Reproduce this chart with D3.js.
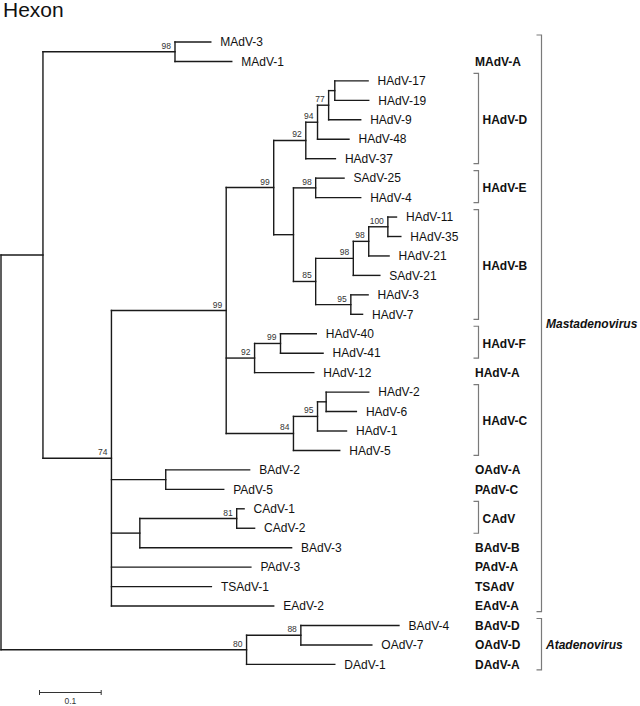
<!DOCTYPE html>
<html><head><meta charset="utf-8">
<script src="https://cdn.jsdelivr.net/npm/d3@7"></script>
<style>body{margin:0;background:#fff}svg{display:block}text{font-family:Arial,"Liberation Sans",sans-serif}</style>
</head><body><svg id="c" width="640" height="706"></svg>
<script>
const title = "Hexon";
// [node, parent, branch length]
const branches = [
["root","",0],
["Mast","root",0.068],
["nMAdV","Mast",0.214],
["MAdV-3","nMAdV",0.058],
["MAdV-1","nMAdV",0.092],
["n74","Mast",0.111],
["nHAdV","n74",0.186],
["nDEB","nHAdV",0.077],
["nD","nDEB",0.052],
["n94","nD",0.019],
["n77","n94",0.018],
["n1719","n77",0.010],
["HAdV-17","n1719",0.054],
["HAdV-19","n1719",0.055],
["HAdV-9","n77",0.052],
["HAdV-48","n94",0.051],
["HAdV-37","nD",0.048],
["nEB","nDEB",0.032],
["nE","nEB",0.036],
["SAdV-25","nE",0.046],
["HAdV-4","nE",0.073],
["nB","nEB",0.036],
["nB98a","nB",0.061],
["nB98b","nB98a",0.025],
["nB100","nB98b",0.031],
["HAdV-11","nB100",0.014],
["HAdV-35","nB100",0.021],
["HAdV-21","nB98b",0.033],
["SAdV-21","nB98a",0.043],
["nB95","nB",0.057],
["HAdV-3","nB95",0.028],
["HAdV-7","nB95",0.019],
["nFA","nHAdV",0.046],
["nF","nFA",0.042],
["HAdV-40","nF",0.058],
["HAdV-41","nF",0.069],
["HAdV-12","nFA",0.096],
["nC","nHAdV",0.109],
["nC95","nC",0.039],
["nC26","nC95",0.014],
["HAdV-2","nC26",0.069],
["HAdV-6","nC26",0.049],
["HAdV-1","nC95",0.047],
["HAdV-5","nC",0.075],
["nBP","n74",0.088],
["BAdV-2","nBP",0.136],
["PAdV-5","nBP",0.094],
["nCB","n74",0.046],
["nCAdV","nCB",0.157],
["CAdV-1","nCAdV",0.012],
["CAdV-2","nCAdV",0.029],
["BAdV-3","nCB",0.246],
["PAdV-3","n74",0.226],
["TSAdV-1","n74",0.162],
["EAdV-2","n74",0.263],
["Atad","root",0.398],
["n88","Atad",0.088],
["BAdV-4","n88",0.159],
["OAdV-7","n88",0.115],
["DAdV-1","Atad",0.143]
];
// bootstrap support [node, value]
const support = [
["nMAdV",98],["n74",74],["nHAdV",99],["nDEB",99],["nD",92],["n94",94],["n77",77],
["nE",98],["nB",85],["nB98a",98],["nB98b",98],["nB100",100],["nB95",95],
["nFA",92],["nF",99],["nC",84],["nC95",95],["nCAdV",81],["Atad",80],["n88",88]
];
// species groups [label, first leaf, last leaf]
const groups = [
["MAdV-A","MAdV-1","MAdV-1"],["HAdV-D","HAdV-17","HAdV-37"],["HAdV-E","SAdV-25","HAdV-4"],
["HAdV-B","HAdV-11","HAdV-7"],["HAdV-F","HAdV-40","HAdV-41"],["HAdV-A","HAdV-12","HAdV-12"],
["HAdV-C","HAdV-2","HAdV-5"],["OAdV-A","BAdV-2","BAdV-2"],["PAdV-C","PAdV-5","PAdV-5"],
["CAdV","CAdV-1","CAdV-2"],["BAdV-B","BAdV-3","BAdV-3"],["PAdV-A","PAdV-3","PAdV-3"],
["TSAdV","TSAdV-1","TSAdV-1"],["EAdV-A","EAdV-2","EAdV-2"],["BAdV-D","BAdV-4","BAdV-4"],
["OAdV-D","OAdV-7","OAdV-7"],["DAdV-A","DAdV-1","DAdV-1"]
];
// genera [label, first leaf, last leaf]
const genera = [["Mastadenovirus","MAdV-3","EAdV-2"],["Atadenovirus","BAdV-4","DAdV-1"]];
const scaleBarValue = 0.1;

const svg = d3.select("#c");
svg.append("text").attr("x",3).attr("y",17).attr("font-size",21).attr("fill","#111").text(title);

const root = d3.stratify().id(d=>d[0]).parentId(d=>d[1]||null)(branches);
root.eachBefore(n=>{ n.dist = n.parent ? n.parent.dist + n.data[2] : 0; });
const leaves = root.leaves();
const x = d3.scaleLinear().domain([0, 0.1]).range([1, 62.7]);
const yL = d3.scalePoint().domain(leaves.map(d=>d.id)).range([42, 664.4]);
root.eachAfter(n=>{
  n.py = n.children ? (n.children[0].py + n.children[n.children.length-1].py)/2 : yL(n.id);
  n.px = x(n.dist);
});

const g = svg.append("g").attr("stroke","#1a1a1a").attr("stroke-width",1.4).attr("fill","none").attr("stroke-linecap","square");
root.descendants().forEach(n=>{
  if (n.parent) g.append("path").attr("d",`M${n.parent.px},${n.py}H${n.px}`);
  if (n.children) g.append("path").attr("d",`M${n.px},${n.children[0].py}V${n.children[n.children.length-1].py}`);
});
const byId = new Map(root.descendants().map(n=>[n.id,n]));
svg.append("g").selectAll("text").data(leaves).join("text")
  .attr("x",d=>d.px+9.5).attr("y",d=>d.py).attr("dy","0.35em")
  .attr("font-size",12).attr("fill","#111").text(d=>d.id);
svg.append("g").selectAll("text").data(support).join("text")
  .attr("x",d=>byId.get(d[0]).px-4).attr("y",d=>byId.get(d[0]).py-3)
  .attr("text-anchor","end").attr("font-size",8.5).attr("fill","#333").text(d=>d[1]);

// groups
const gg = svg.append("g");
groups.forEach(([lab,a,b])=>{
  const y1=yL(a), y2=yL(b);
  const br = a!==b;
  if (br) gg.append("path").attr("d",`M473.5,${y1-7.5}H478.5V${y2+5}H473.5`)
    .attr("fill","none").attr("stroke","#7a7a7a").attr("stroke-width",1.2);
  gg.append("text").attr("x",br?482.5:475).attr("y",(y1+y2)/2).attr("dy","0.35em")
    .attr("font-size",12).attr("font-weight","bold").attr("fill","#111").text(lab);
});
genera.forEach(([lab,a,b])=>{
  const y1=yL(a), y2=yL(b);
  gg.append("path").attr("d",`M536.5,${y1-7}H541.5V${y2+5.5}H536.5`)
    .attr("fill","none").attr("stroke","#7a7a7a").attr("stroke-width",1.2);
  gg.append("text").attr("x",546).attr("y",(y1+y2)/2).attr("dy","0.35em")
    .attr("font-size",12).attr("font-weight","bold").attr("font-style","italic").attr("fill","#111").text(lab);
});
// scale bar
const bx0 = 39.5, bw = x(scaleBarValue)-x(0), by = 692.5;
svg.append("path").attr("d",`M${bx0},${by-2.5}V${by+2.5}M${bx0},${by}H${bx0+bw}M${bx0+bw},${by-2.5}V${by+2.5}`)
  .attr("stroke","#333").attr("stroke-width",1).attr("fill","none");
svg.append("text").attr("x",bx0+bw/2).attr("y",704).attr("text-anchor","middle").attr("font-size",8.5).attr("fill","#333").text(scaleBarValue);
</script></body></html>
